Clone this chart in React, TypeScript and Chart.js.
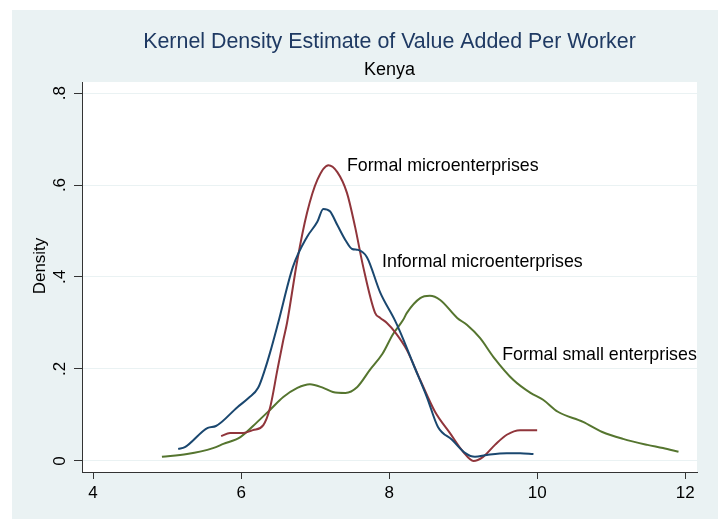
import { useEffect, useRef } from "react";
import { Chart, registerables } from "chart.js";

Chart.register(...registerables);

const titleText = "Kernel Density Estimate of Value Added Per Worker";
const subtitleText = "Kenya";
const yAxisTitle = "Density";

const xTickValues = [4, 6, 8, 10, 12];
const xTickLabels = ["4", "6", "8", "10", "12"];
const yTickValues = [0, 0.2, 0.4, 0.6, 0.8];
const yTickLabels = ["0", ".2", ".4", ".6", ".8"];

const seriesNames = [
  "Informal microenterprises",
  "Formal microenterprises",
  "Formal small enterprises",
];

const informalX = [5.15, 5.24, 5.55, 5.66, 5.95, 6.1, 6.23, 6.32, 6.39, 6.5, 6.7, 6.89, 7.03, 7.11, 7.2, 7.3, 7.41, 7.5, 7.58, 7.7, 7.88, 8.08, 8.19, 8.32, 8.51, 8.66, 8.85, 9.03, 9.16, 9.32, 9.59, 9.77, 9.95];
const informalY = [0.026, 0.03, 0.072, 0.076, 0.117, 0.137, 0.159, 0.198, 0.235, 0.3, 0.422, 0.487, 0.52, 0.548, 0.543, 0.513, 0.48, 0.461, 0.459, 0.443, 0.366, 0.305, 0.265, 0.213, 0.139, 0.074, 0.046, 0.017, 0.009, 0.013, 0.017, 0.017, 0.015];

const formalMicroX = [5.73, 5.85, 6.03, 6.16, 6.3, 6.39, 6.49, 6.57, 6.62, 6.76, 6.89, 7.03, 7.18, 7.3, 7.43, 7.54, 7.65, 7.81, 7.88, 7.97, 8.08, 8.24, 8.42, 8.62, 8.82, 9.0, 9.14, 9.27, 9.43, 9.59, 9.77, 10.0];
const formalMicroY = [0.054, 0.061, 0.061, 0.067, 0.078, 0.115, 0.198, 0.263, 0.3, 0.437, 0.539, 0.611, 0.643, 0.628, 0.583, 0.509, 0.422, 0.322, 0.311, 0.3, 0.28, 0.241, 0.176, 0.107, 0.061, 0.02, 0.0, 0.009, 0.035, 0.057, 0.067, 0.067];

const formalSmallX = [4.93, 5.27, 5.62, 5.76, 5.99, 6.22, 6.39, 6.57, 6.76, 6.93, 7.11, 7.24, 7.41, 7.57, 7.74, 7.91, 8.05, 8.19, 8.24, 8.42, 8.55, 8.69, 8.92, 9.05, 9.23, 9.41, 9.68, 9.91, 10.08, 10.28, 10.62, 10.88, 11.16, 11.49, 11.7, 11.91];
const formalSmallY = [0.009, 0.015, 0.028, 0.037, 0.052, 0.085, 0.111, 0.139, 0.159, 0.167, 0.159, 0.15, 0.148, 0.161, 0.198, 0.233, 0.275, 0.307, 0.322, 0.354, 0.359, 0.35, 0.311, 0.296, 0.267, 0.226, 0.176, 0.148, 0.133, 0.107, 0.085, 0.063, 0.048, 0.035, 0.028, 0.02];

// label anchor points (data units) for the in-plot series labels
const labelX = [7.905, 7.43, 9.527];
const labelY = [0.433, 0.641, 0.23];

const FONT = "Arial, 'Liberation Sans', sans-serif";
const COLORS = ["#1a476f", "#90353b", "#55752f"];

function zip(xs: number[], ys: number[]) {
  return xs.map((x, i) => ({ x, y: ys[i] }));
}

const decor = {
  id: "decor",
  beforeDraw(chart: any) {
    const { ctx, chartArea: a, width, height } = chart;
    ctx.save();
    ctx.fillStyle = "#ffffff";
    ctx.fillRect(0, 0, width, height);
    ctx.fillStyle = "#eaf2f3";
    ctx.fillRect(12, 10, width - 12, height - 10);
    ctx.fillStyle = "#ffffff";
    ctx.fillRect(a.left, a.top, a.right - a.left, a.bottom - a.top);
    ctx.restore();
  },
  afterDraw(chart: any) {
    const { ctx, chartArea: a } = chart;
    const xs = chart.scales.x;
    const ys = chart.scales.y;
    const cx = (a.left + a.right) / 2;
    ctx.save();
    ctx.textBaseline = "middle";
    ctx.textAlign = "center";
    ctx.fillStyle = "#1f3a63";
    ctx.font = `21.4px ${FONT}`;
    ctx.fillText(titleText, cx, 42);
    ctx.fillStyle = "#000";
    ctx.font = `18px ${FONT}`;
    ctx.fillText(subtitleText, cx, 70);

    ctx.font = `17px ${FONT}`;
    xTickValues.forEach((v, i) => {
      ctx.fillText(xTickLabels[i], xs.getPixelForValue(v), 493);
    });
    yTickValues.forEach((v, i) => {
      ctx.save();
      ctx.translate(60.5, ys.getPixelForValue(v));
      ctx.rotate(-Math.PI / 2);
      ctx.fillText(yTickLabels[i], 0, 0);
      ctx.restore();
    });
    ctx.save();
    ctx.translate(40, 266);
    ctx.rotate(-Math.PI / 2);
    ctx.fillText(yAxisTitle, 0, 0);
    ctx.restore();

    ctx.textAlign = "left";
    ctx.font = `17.8px ${FONT}`;
    seriesNames.forEach((n, i) => {
      ctx.fillText(n, xs.getPixelForValue(labelX[i]), ys.getPixelForValue(labelY[i]));
    });
    ctx.restore();
  },
};

export default function App() {
  const ref = useRef<HTMLCanvasElement | null>(null);
  useEffect(() => {
    if (!ref.current) return;
    const data = [
      zip(informalX, informalY),
      zip(formalMicroX, formalMicroY),
      zip(formalSmallX, formalSmallY),
    ];
    const chart = new Chart(ref.current, {
      type: "line",
      data: {
        datasets: seriesNames.map((name, i) => ({
          label: name,
          data: data[i],
          borderColor: COLORS[i],
          backgroundColor: COLORS[i],
          borderWidth: 2,
          pointRadius: 0,
          fill: false,
          cubicInterpolationMode: "monotone" as const,
        })),
      },
      options: {
        responsive: false,
        animation: false,
        devicePixelRatio: 1,
        layout: { padding: { left: 0, top: 82, right: 21, bottom: 0 } },
        plugins: {
          legend: { display: false },
          title: { display: false },
          tooltip: { enabled: false },
        },
        scales: {
          x: {
            type: "linear",
            min: 3.85,
            max: 12.16,
            afterBuildTicks: (s: any) => {
              s.ticks = xTickValues.map((v) => ({ value: v }));
            },
            afterFit: (s: any) => {
              s.height = 47;
            },
            ticks: { display: false },
            grid: {
              drawOnChartArea: false,
              drawTicks: true,
              tickLength: 7,
              tickColor: "#333",
              tickWidth: 1,
            },
            border: { display: true, color: "#333", width: 1 },
          },
          y: {
            type: "linear",
            min: -0.024,
            max: 0.824,
            afterBuildTicks: (s: any) => {
              s.ticks = yTickValues.map((v) => ({ value: v }));
            },
            afterFit: (s: any) => {
              s.width = 82;
            },
            ticks: { display: false },
            grid: {
              drawOnChartArea: true,
              color: "#eaf2f3",
              lineWidth: 1,
              drawTicks: true,
              tickLength: 8,
              tickColor: "#333",
              tickWidth: 1,
            },
            border: { display: true, color: "#333", width: 1 },
          },
        },
      },
      plugins: [decor],
    });
    return () => chart.destroy();
  }, []);
  return (
    <div style={{ position: "fixed", left: 0, top: 0, width: 718, height: 519 }}>
      <canvas ref={ref} width={718} height={519} style={{ display: "block", width: 718, height: 519 }} />
    </div>
  );
}
